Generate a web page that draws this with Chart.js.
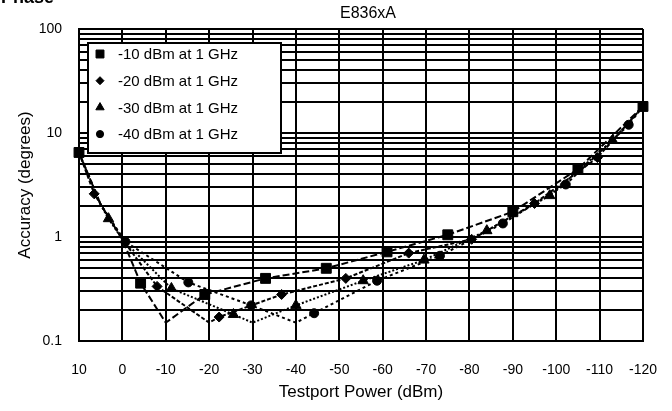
<!DOCTYPE html>
<html>
<head>
<meta charset="utf-8">
<script src="https://cdn.jsdelivr.net/npm/chart.js"></script>
<style>
  html, body { margin: 0; padding: 0; background: #fff; }
  canvas { display: block; }
</style>
</head>
<body>
<canvas id="chart" width="672" height="411"></canvas>
<script>
const FONT = "'Liberation Sans', Arial, sans-serif";

const chartTitle = 'E836xA';
const seriesLabels = ['-10 dBm at 1 GHz', '-20 dBm at 1 GHz', '-30 dBm at 1 GHz', '-40 dBm at 1 GHz'];

const xTicks = [10, 0, -10, -20, -30, -40, -50, -60, -70, -80, -90, -100, -110, -120];
const yTicks = [0.1, 0.2, 0.3, 0.4, 0.5, 0.6, 0.7, 0.8, 0.9,
                1, 2, 3, 4, 5, 6, 7, 8, 9,
                10, 20, 30, 40, 50, 60, 70, 80, 90, 100];
const yLabels = [0.1, 1, 10, 100];

// -10 dBm reference (squares)
const ref10Power = [10, 5, 0, -4.2, -10, -19, -33, -47, -61, -75, -90, -105, -120];
const ref10Acc   = [6.5, 2.05, 0.95, 0.36, 0.15, 0.28, 0.40, 0.50, 0.72, 1.05, 1.75, 4.5, 18];
const ref10Mark  = [1, 0, 0, 1, 0, 1, 1, 1, 1, 1, 1, 1, 1];

// -20 dBm reference (diamonds)
const ref20Power = [10, 6.5, 0, -8, -20, -22.3, -36.7, -51.5, -66, -80.5, -95, -109.5, -120];
const ref20Acc   = [6.5, 2.6, 0.95, 0.335, 0.15, 0.17, 0.28, 0.40, 0.70, 0.95, 2.1, 5.8, 18];
const ref20Mark  = [0, 1, 0, 1, 0, 1, 1, 1, 1, 1, 1, 1, 0];

// -30 dBm reference (triangles)
const ref30Power = [10, 5, 3.2, 0, -11.3, -25.6, -30, -40, -55.5, -69.5, -84, -98.5, -113, -120];
const ref30Acc   = [6.5, 2.05, 1.5, 0.95, 0.32, 0.18, 0.15, 0.22, 0.38, 0.60, 1.15, 2.5, 8.5, 18];
const ref30Mark  = [0, 0, 1, 0, 1, 1, 0, 1, 1, 1, 1, 1, 1, 0];

// -40 dBm reference (circles)
const ref40Power = [10, 5, -0.7, -15.2, -29.7, -40, -44.2, -58.7, -73.2, -87.7, -102.2, -116.7, -120];
const ref40Acc   = [6.5, 2.05, 0.9, 0.366, 0.22, 0.15, 0.185, 0.38, 0.66, 1.35, 3.2, 12, 18];
const ref40Mark  = [0, 0, 1, 1, 1, 0, 1, 1, 1, 1, 1, 1, 0];

function points(xs, ys) {
    return xs.map((x, i) => ({ x: x, y: ys[i] }));
}

function makeSet(label, xs, ys, marks, style, radius, dash) {
    return {
        label: label,
        data: points(xs, ys),
        borderColor: '#000',
        borderWidth: 2,
        borderDash: dash,
        backgroundColor: '#000',
        pointStyle: style,
        pointRadius: marks.map(m => m ? radius : 0),
        pointBackgroundColor: '#000',
        pointBorderColor: '#000',
        pointBorderWidth: 1,
        legendRadius: radius,
        tension: 0,
        clip: false
    };
}

/* =========================
   TITLE + BOXED LEGEND
========================= */
const overlay = {
    id: 'overlay',
    afterDatasetsDraw(chart) {
        const ctx = chart.ctx;
        const area = chart.chartArea;
        const bx = area.left + 9, by = area.top + 14, bw = 193, bh = 110;

        ctx.save();
        ctx.fillStyle = '#fff';
        ctx.fillRect(bx, by, bw, bh);
        ctx.strokeStyle = '#000';
        ctx.lineWidth = 2;
        ctx.strokeRect(bx, by, bw, bh);

        ctx.font = '15px ' + FONT;
        ctx.textAlign = 'left';
        ctx.textBaseline = 'middle';
        chart.data.datasets.forEach((ds, i) => {
            const y = by + 11 + i * 26.7;
            ctx.fillStyle = '#000';
            ctx.strokeStyle = '#000';
            ctx.lineWidth = 1;
            Chart.helpers.drawPoint(ctx, {
                pointStyle: ds.pointStyle,
                radius: ds.legendRadius * 0.8,
                borderWidth: 1,
                rotation: 0
            }, bx + 12, y);
            ctx.fillText(ds.label, bx + 30, y + 1);
        });
        ctx.restore();
    },
    afterDraw(chart) {
        const ctx = chart.ctx;
        ctx.save();
        ctx.fillStyle = '#000';
        ctx.font = '16px ' + FONT;
        ctx.textAlign = 'center';
        ctx.textBaseline = 'middle';
        ctx.fillText(chartTitle, 368, 14);

        ctx.font = 'bold 18px ' + FONT;
        ctx.textAlign = 'left';
        ctx.textBaseline = 'alphabetic';
        ctx.fillText('Phase', 1, 3);
        ctx.restore();
    }
};

window.onload = function () {
    const ctx = document.getElementById('chart').getContext('2d');

    new Chart(ctx, {
        type: 'line',
        data: {
            datasets: [
                makeSet(seriesLabels[0], ref10Power, ref10Acc, ref10Mark, 'rect', 7, [7, 3]),
                makeSet(seriesLabels[1], ref20Power, ref20Acc, ref20Mark, 'rectRot', 5, [4, 2]),
                makeSet(seriesLabels[2], ref30Power, ref30Acc, ref30Mark, 'triangle', 6, [2, 2]),
                makeSet(seriesLabels[3], ref40Power, ref40Acc, ref40Mark, 'circle', 4.5, [3, 3])
            ]
        },
        options: {
            responsive: false,
            animation: false,
            devicePixelRatio: 1,
            layout: { padding: { top: 29, right: 29, left: 0, bottom: 0 } },
            plugins: {
                legend: { display: false },
                title: { display: false },
                tooltip: { enabled: false }
            },
            scales: {
                x: {
                    type: 'linear',
                    reverse: true,
                    min: -120,
                    max: 10,
                    afterBuildTicks: s => { s.ticks = xTicks.slice().sort((a, b) => a - b).map(v => ({ value: v })); },
                    afterFit: s => { s.height = 70; },
                    grid: { color: '#000', lineWidth: 2, drawTicks: false },
                    border: { color: '#000', width: 2 },
                    ticks: {
                        color: '#000',
                        font: { family: FONT, size: 14 },
                        padding: 21,
                        maxRotation: 0,
                        autoSkip: false,
                        callback: v => String(v)
                    },
                    title: {
                        display: true,
                        text: 'Testport Power (dBm)',
                        color: '#000',
                        font: { family: FONT, size: 17 },
                        padding: { top: 0, bottom: 8 }
                    }
                },
                y: {
                    type: 'logarithmic',
                    min: 0.1,
                    max: 100,
                    afterBuildTicks: s => { s.ticks = yTicks.map(v => ({ value: v })); },
                    afterFit: s => { s.width = 79; },
                    grid: { color: '#000', lineWidth: 2, drawTicks: false },
                    border: { color: '#000', width: 2 },
                    ticks: {
                        color: '#000',
                        font: { family: FONT, size: 14 },
                        padding: 17,
                        autoSkip: false,
                        callback: v => yLabels.includes(v) ? String(v) : ''
                    },
                    title: {
                        display: true,
                        text: 'Accuracy (degrees)',
                        color: '#000',
                        font: { family: FONT, size: 17 },
                        padding: { top: 15, bottom: 0 }
                    }
                }
            }
        },
        plugins: [overlay]
    });
};
</script>
</body>
</html>
